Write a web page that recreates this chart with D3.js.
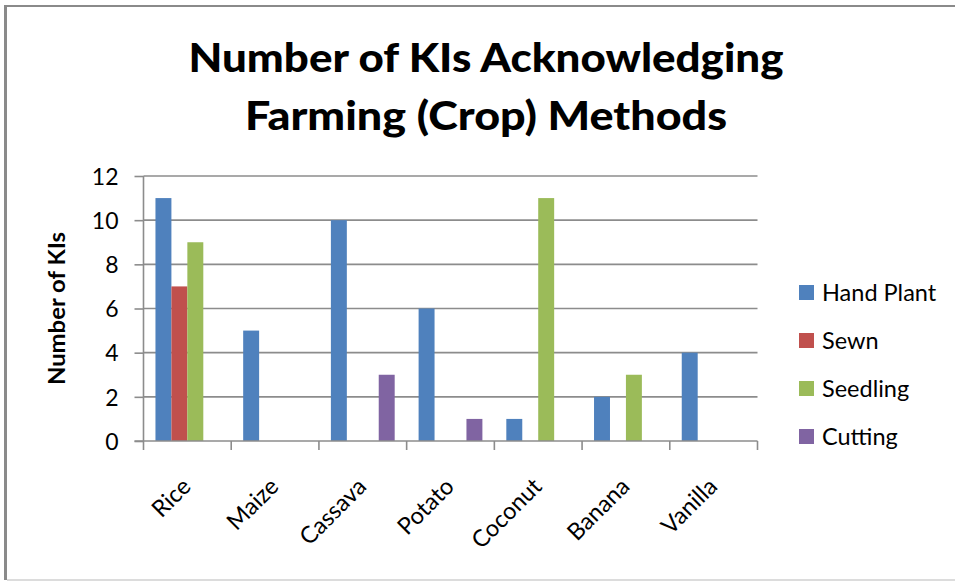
<!DOCTYPE html>
<html>
<head>
<meta charset="utf-8">
<script src="https://cdn.jsdelivr.net/npm/d3@7"></script>
<style>
  html, body { margin: 0; padding: 0; background: #fff; }
  svg { display: block; }
  text { font-family: Lato, "Open Sans", sans-serif; fill: #000; }
</style>
</head>
<body>
<svg id="chart" width="955" height="581"></svg>
<script>
// Crops and farming methods
const categories = ["Rice", "Maize", "Cassava", "Potato", "Coconut", "Banana", "Vanilla"];
const seriesNames = ["Hand Plant", "Sewn", "Seedling", "Cutting"];
const handPlant = [11, 5, 10, 6, 1, 2, 4];
const sewn      = [7, 0, 0, 0, 0, 0, 0];
const seedling  = [9, 0, 0, 0, 11, 3, 0];
const cutting   = [0, 0, 3, 1, 0, 0, 0];
const yTicks = [0, 2, 4, 6, 8, 10, 12];
const titleLines = ["Number of KIs Acknowledging", "Farming (Crop) Methods"];
const yTitle = "Number of KIs";

const seriesValues = [handPlant, sewn, seedling, cutting];
const colors = ["#4F81BD", "#C0504D", "#9BBB59", "#8064A2"];

const svg = d3.select("#chart");
const plot = { left: 143.5, right: 757.5, top: 176, bottom: 441 };
const gridColor = "#8c8c8c";

// Frame around the chart area
svg.append("line").attr("x1", 5.5).attr("x2", 5.5).attr("y1", 5).attr("y2", 580)
  .attr("stroke", "#8a8a8a").attr("stroke-width", 3);
svg.append("line").attr("x1", 4).attr("x2", 955).attr("y1", 6).attr("y2", 6)
  .attr("stroke", "#8a8a8a").attr("stroke-width", 2);
svg.append("line").attr("x1", 7).attr("x2", 955).attr("y1", 580).attr("y2", 580)
  .attr("stroke", "#d0d0d0").attr("stroke-width", 1.5);

// Scales
const x0 = d3.scaleBand().domain(categories).range([plot.left, plot.right]).padding(0);
const x1 = d3.scaleBand().domain(seriesNames).range([0, x0.bandwidth()])
  .paddingInner(0).paddingOuter(0.75);
const y = d3.scaleLinear().domain([0, 12]).range([plot.bottom, plot.top]);

// Horizontal gridlines
svg.append("g").selectAll("line").data(yTicks.filter(d => d > 0)).join("line")
  .attr("x1", plot.left).attr("x2", plot.right)
  .attr("y1", d => y(d)).attr("y2", d => y(d))
  .attr("stroke", gridColor).attr("stroke-width", 1.6);

// Bars
const rows = categories.map((c, i) => ({
  category: c,
  values: seriesNames.map((s, j) => ({ series: s, value: seriesValues[j][i], color: colors[j] }))
}));
svg.append("g").selectAll("g").data(rows).join("g")
  .attr("transform", d => `translate(${x0(d.category)},0)`)
  .selectAll("rect").data(d => d.values.filter(v => v.value > 0)).join("rect")
  .attr("x", d => x1(d.series))
  .attr("width", x1.bandwidth())
  .attr("y", d => y(d.value))
  .attr("height", d => y(0) - y(d.value))
  .attr("fill", d => d.color);

// Y axis
const yAxis = d3.axisLeft(y).tickValues(yTicks).tickSize(9).tickPadding(16)
  .tickFormat(d3.format("d"));
const gy = svg.append("g").attr("transform", `translate(${plot.left},0)`).call(yAxis);
gy.select(".domain").attr("stroke", gridColor).attr("stroke-width", 1.6)
  .attr("d", `M0,${plot.top}V${plot.bottom}`);
gy.selectAll(".tick line").attr("stroke", gridColor).attr("stroke-width", 1.6);
gy.selectAll(".tick text").attr("font-family", "Lato, sans-serif")
  .attr("font-size", 23).attr("fill", "#000").attr("dy", "0.36em");

// X axis
const xAxis = d3.axisBottom(x0).tickSize(0).tickFormat("");
const gx = svg.append("g").attr("transform", `translate(0,${plot.bottom})`).call(xAxis);
gx.select(".domain").attr("stroke", gridColor).attr("stroke-width", 1.6)
  .attr("d", `M${plot.left - 9},0H${plot.right}`);
gx.selectAll(".tick").remove();
const bounds = categories.map(c => x0(c)).concat([x0(categories[categories.length - 1]) + x0.bandwidth()]);
gx.append("g").selectAll("line").data(bounds).join("line")
  .attr("x1", d => d).attr("x2", d => d).attr("y1", 0).attr("y2", 9)
  .attr("stroke", gridColor).attr("stroke-width", 1.6);

// Rotated category labels
svg.append("g").selectAll("text").data(categories).join("text")
  .attr("transform", d => `translate(${x0(d) + x0.bandwidth() / 2 + 5},488) rotate(-45)`)
  .attr("text-anchor", "end")
  .attr("font-size", 23.5)
  .text(d => d);

// Title
const titleG = svg.append("g");
const t1 = titleG.append("text").attr("x", 486).attr("y", 72).attr("text-anchor", "middle")
  .attr("font-weight", 900).attr("font-size", 40).text(titleLines[0]);
const t2 = titleG.append("text").attr("x", 486).attr("y", 130).attr("text-anchor", "middle")
  .attr("font-weight", 900).attr("font-size", 40).text(titleLines[1]);
t1.attr("textLength", 595).attr("lengthAdjust", "spacingAndGlyphs");
t2.attr("textLength", 482).attr("lengthAdjust", "spacingAndGlyphs");

// Y axis title
const yt = svg.append("text")
  .attr("transform", "translate(65,308.5) rotate(-90)")
  .attr("text-anchor", "middle").attr("font-weight", "bold").attr("font-size", 23)
  .text(yTitle);
yt.attr("textLength", 153).attr("lengthAdjust", "spacingAndGlyphs");

// Legend
const legend = svg.append("g").selectAll("g").data(seriesNames).join("g")
  .attr("transform", (d, i) => `translate(799,${285 + i * 48})`);
legend.append("rect").attr("width", 15).attr("height", 15).attr("fill", (d, i) => colors[i]);
legend.append("text").attr("x", 23).attr("y", 15.5).attr("font-size", 23.5).text(d => d);
</script>
</body>
</html>
